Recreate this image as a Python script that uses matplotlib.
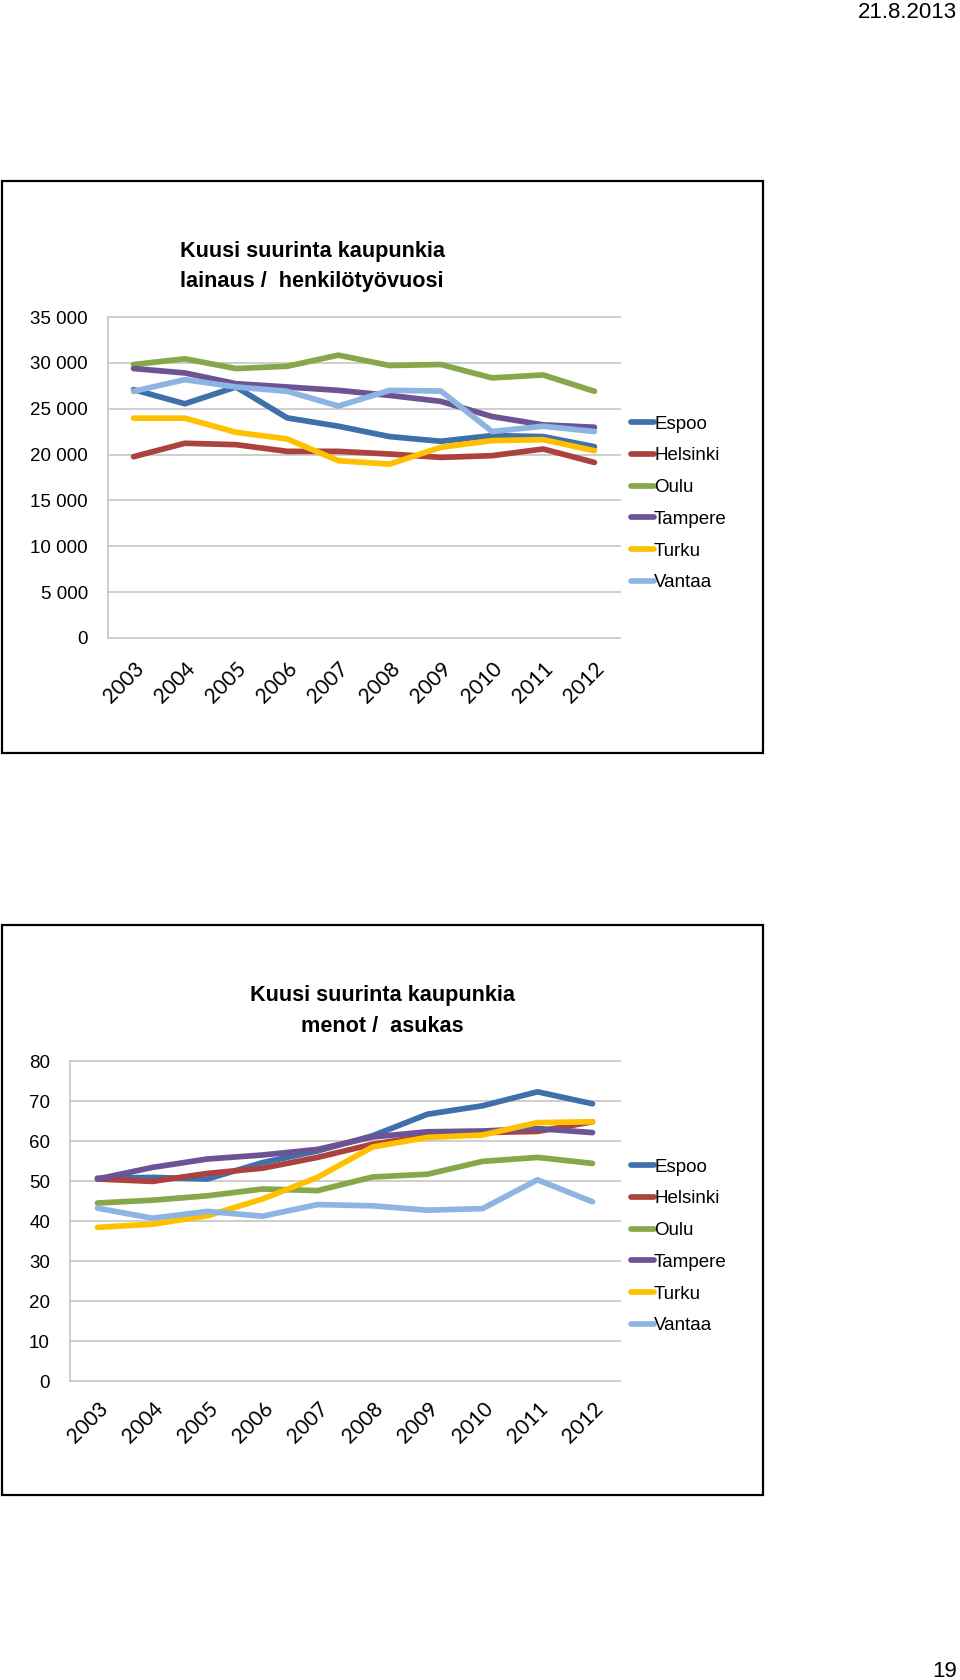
"""
plot.py
Kuusi suurinta kaupunkia: lainaus / henkilötyövuosi and menot / asukas, 2003-2012.
"""

import matplotlib
matplotlib.use('Agg')
import matplotlib.pyplot as plt
from matplotlib.patches import Rectangle
from matplotlib.ticker import FuncFormatter, MultipleLocator

# ── Data ───────────────────────────────────────────────
YEARS  = ['2003', '2004', '2005', '2006', '2007', '2008', '2009', '2010', '2011', '2012']
CITIES = ['Espoo', 'Helsinki', 'Oulu', 'Tampere', 'Turku', 'Vantaa']

# lainaus / henkilötyövuosi
LOANS_ESPOO    = [27080, 25540, 27370, 24000, 23090, 21960, 21450, 22070, 21960, 20860]
LOANS_HELSINKI = [19770, 21230, 21080, 20350, 20350, 20060, 19690, 19880, 20610, 19140]
LOANS_OULU     = [29820, 30440, 29380, 29630, 30840, 29710, 29820, 28360, 28680, 26900]
LOANS_TAMPERE  = [29380, 28900, 27730, 27370, 27000, 26450, 25800, 24150, 23240, 22980]
LOANS_TURKU    = [23970, 23970, 22430, 21700, 19330, 18960, 20790, 21520, 21630, 20420]
LOANS_VANTAA   = [26900, 28170, 27370, 26900, 25290, 27000, 26930, 22510, 23090, 22510]

# menot / asukas
COST_ESPOO    = [50.7, 50.9, 50.5, 54.6, 57.5, 61.3, 66.7, 68.8, 72.3, 69.3]
COST_HELSINKI = [50.5, 49.9, 51.9, 53.2, 55.9, 59.2, 61.3, 62.1, 62.4, 64.8]
COST_OULU     = [44.5, 45.2, 46.3, 48.0, 47.6, 51.0, 51.7, 54.9, 55.9, 54.4]
COST_TAMPERE  = [50.5, 53.4, 55.5, 56.5, 57.9, 61.0, 62.3, 62.5, 63.1, 62.1]
COST_TURKU    = [38.4, 39.2, 41.3, 45.5, 50.9, 58.5, 60.9, 61.5, 64.6, 64.8]
COST_VANTAA   = [43.2, 40.7, 42.4, 41.2, 44.1, 43.8, 42.7, 43.1, 50.3, 44.8]

LOANS = [LOANS_ESPOO, LOANS_HELSINKI, LOANS_OULU, LOANS_TAMPERE, LOANS_TURKU, LOANS_VANTAA]
COSTS = [COST_ESPOO, COST_HELSINKI, COST_OULU, COST_TAMPERE, COST_TURKU, COST_VANTAA]

# ── Style ──────────────────────────────────────────────
COLORS    = ['#3F70AA', '#AD413E', '#86A74A', '#6C5393', '#FFC000', '#8DB4E2']
W, H      = 960, 1680
SANS      = ['Liberation Sans', 'DejaVu Sans']
XFONT     = ['Lato', 'Open Sans', 'DejaVu Sans']
GRID      = '#C6C6C6'
# ───────────────────────────────────────────────────────


def px_box(left, top, right, bottom):
    """Pixel box (from top-left) -> figure fraction [l, b, w, h]."""
    return [left / W, 1 - bottom / H, (right - left) / W, (bottom - top) / H]


def thousands(v, _):
    return f'{int(v):,}'.replace(',', ' ')


def draw_chart(fig, box, series, ymax, ystep, yfmt, xpad, legend_y, title_lines, title_x, title_y):
    ax = fig.add_axes(px_box(*box))
    xs = range(len(YEARS))
    for vals, name, col in zip(series, CITIES, COLORS):
        ax.plot(xs, vals, color=col, lw=4.1, label=name,
                solid_capstyle='round', solid_joinstyle='round')

    ax.set_xlim(-0.5, len(YEARS) - 0.5)
    ax.set_ylim(0, ymax)
    ax.yaxis.set_major_locator(MultipleLocator(ystep))
    ax.yaxis.set_major_formatter(FuncFormatter(yfmt))
    ax.grid(axis='y', color=GRID, lw=1.2)
    for gl in ax.get_ygridlines():
        gl.set_clip_on(False)
    ax.set_axisbelow(True)
    for s in ['top', 'right', 'bottom']:
        ax.spines[s].set_visible(False)
    ax.spines['left'].set_color(GRID)
    ax.spines['left'].set_linewidth(1.2)

    ax.set_xticks(list(xs))
    ax.set_xticklabels(YEARS, rotation=45, ha='right', va='top',
                       rotation_mode='anchor', fontsize=15, family=XFONT)
    ax.tick_params(axis='x', length=0, pad=xpad)
    ax.tick_params(axis='y', length=0, pad=14.4, labelsize=13.5)
    for t in ax.get_yticklabels():
        t.set_family(SANS)

    ax.legend(loc='center left', bbox_to_anchor=(631 / W, 1 - legend_y / H),
              bbox_transform=fig.transFigure, frameon=False,
              prop={'family': SANS, 'size': 13.5}, handlelength=1.23,
              handletextpad=0.0, labelspacing=0.78, borderpad=0, borderaxespad=0)

    for line, y in zip(title_lines, title_y):
        fig.text(title_x / W, 1 - y / H, line, ha='center', va='center',
                 fontsize=15.6, fontweight='bold', family=SANS)
    return ax


def main():
    plt.rcParams['font.family'] = SANS
    fig = plt.figure(figsize=(W / 100, H / 100), dpi=100)
    fig.patch.set_facecolor('white')

    # chart frames
    for top, bottom in [(181, 753), (925, 1495)]:
        fig.patches.append(Rectangle((2 / W, 1 - bottom / H), 761 / W, (bottom - top) / H,
                                     transform=fig.transFigure, fill=False,
                                     edgecolor='black', lw=1.6))

    draw_chart(fig, (108, 317, 620, 638), LOANS, 35000, 5000, thousands, 14.4, 503.5,
               ['Kuusi suurinta kaupunkia', 'lainaus /  henkilötyövuosi'], 312, [251, 282])
    draw_chart(fig, (70, 1061, 620, 1381), COSTS, 80, 10, lambda v, _: f'{int(v)}', 12.6, 1246.5,
               ['Kuusi suurinta kaupunkia', 'menot /  asukas'], 382, [995, 1027])

    # page header / footer
    fig.text(957 / W, 1 - 2 / H, '21.8.2013', ha='right', va='top', fontsize=16, family=SANS)
    fig.text(957 / W, 1 - 1661 / H, '19', ha='right', va='top', fontsize=16, family=SANS)

    fig.savefig('out.png', dpi=100, facecolor='white')
    plt.close(fig)


if __name__ == '__main__':
    main()
